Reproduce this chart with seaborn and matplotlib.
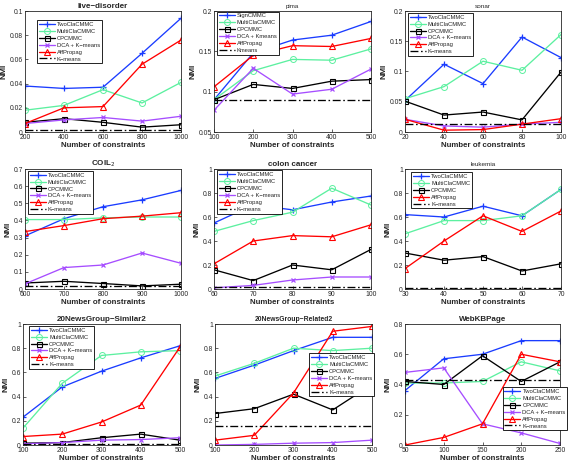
import matplotlib
matplotlib.use("Agg")
import matplotlib.pyplot as plt
import seaborn as sns

# live-disorder
live_x = [200, 400, 600, 800, 1000]
live_two = [0.038, 0.036, 0.037, 0.065, 0.094]
live_multi = [0.018, 0.022, 0.035, 0.024, 0.041]
live_cp = [0.008, 0.011, 0.008, 0.004, 0.006]
live_dca = [0.007, 0.010, 0.012, 0.009, 0.013]
live_aff = [0.007, 0.020, 0.021, 0.056, 0.076]
live_km = [0.002] * 5

# pima
pima_x = [100, 200, 300, 400, 500]
pima_sign = [0.090, 0.148, 0.164, 0.170, 0.187]
pima_multi = [0.090, 0.126, 0.140, 0.139, 0.153]
pima_cp = [0.090, 0.109, 0.104, 0.113, 0.115]
pima_dca = [0.077, 0.129, 0.097, 0.103, 0.128]
pima_aff = [0.106, 0.145, 0.157, 0.156, 0.166]
pima_km = [0.090] * 5

# sonar
sonar_x = [20, 40, 60, 80, 100]
sonar_two = [0.052, 0.112, 0.080, 0.157, 0.123]
sonar_multi = [0.055, 0.075, 0.117, 0.102, 0.161]
sonar_cp = [0.051, 0.028, 0.033, 0.020, 0.099]
sonar_dca = [0.021, 0.010, 0.008, 0.013, 0.016]
sonar_aff = [0.021, 0.003, 0.004, 0.013, 0.022]
sonar_km = [0.014] * 5

# COIL2
coil_x = [600, 700, 800, 900, 1000]
coil_two = [0.31, 0.41, 0.48, 0.52, 0.575]
coil_multi = [0.405, 0.405, 0.415, 0.42, 0.42]
coil_cp = [0.035, 0.045, 0.032, 0.018, 0.028]
coil_dca = [0.03, 0.125, 0.14, 0.21, 0.15]
coil_aff = [0.335, 0.37, 0.41, 0.425, 0.445]
coil_km = [0.018] * 5

# colon cancer
colon_x = [60, 70, 80, 90, 100]
colon_two = [0.55, 0.70, 0.66, 0.725, 0.775]
colon_multi = [0.48, 0.57, 0.64, 0.84, 0.70]
colon_cp = [0.16, 0.07, 0.20, 0.16, 0.33]
colon_dca = [0.01, 0.03, 0.075, 0.10, 0.10]
colon_aff = [0.21, 0.40, 0.445, 0.435, 0.535]
colon_km = [0.015] * 5

# leukemia
leuk_x = [30, 40, 50, 60, 70]
leuk_two = [0.62, 0.60, 0.69, 0.61, 0.83]
leuk_multi = [0.46, 0.57, 0.57, 0.61, 0.83]
leuk_cp = [0.30, 0.24, 0.27, 0.15, 0.21]
leuk_aff = [0.17, 0.40, 0.61, 0.48, 0.65]
leuk_km = [0.005] * 5

# 20NewsGroup-Similar2
sim_x = [100, 200, 300, 400, 500]
sim_two = [0.23, 0.48, 0.61, 0.72, 0.82]
sim_multi = [0.14, 0.51, 0.74, 0.77, 0.78]
sim_cp = [0.015, 0.02, 0.06, 0.09, 0.04]
sim_dca = [0.01, 0.02, 0.04, 0.045, 0.06]
sim_aff = [0.07, 0.09, 0.19, 0.33, 0.81]
sim_km = [0.005] * 5

# 20NewsGroup-Related2
rel_x = [100, 200, 300, 400, 500]
rel_two = [0.55, 0.66, 0.78, 0.89, 0.89]
rel_multi = [0.57, 0.675, 0.80, 0.78, 0.80]
rel_cp = [0.26, 0.30, 0.42, 0.29, 0.50]
rel_dca = [0.0, 0.005, 0.015, 0.02, 0.04]
rel_aff = [0.04, 0.08, 0.43, 0.94, 0.98]
rel_km = [0.16] * 5

# WebKBPage
web_x = [50, 100, 150, 200, 250]
web_two = [0.36, 0.57, 0.60, 0.69, 0.69]
web_multi = [0.41, 0.41, 0.42, 0.55, 0.49]
web_cp = [0.42, 0.40, 0.59, 0.42, 0.55]
web_dca = [0.48, 0.51, 0.14, 0.08, 0.01]
web_aff = [0.0, 0.05, 0.14, 0.60, 0.55]
web_km = [0.43] * 5

# colours / line styles / markers per method
COLORS = {"two": "#1a3cff", "multi": "#5cf0a0", "cp": "black",
          "dca": "#a64dff", "aff": "red", "km": "black"}
MARK = {
    "two": dict(marker="+", markersize=5, markeredgewidth=0.9),
    "multi": dict(marker="o", markersize=4.3, markerfacecolor="none", markeredgewidth=0.7),
    "cp": dict(marker="s", markersize=3.6, markerfacecolor="none", markeredgewidth=0.8),
    "dca": dict(marker="x", markersize=3.4, markeredgewidth=0.9),
    "aff": dict(marker="^", markersize=5, markerfacecolor="none", markeredgewidth=0.8),
    "km": dict(marker="", linestyle=(0, (6, 2, 1.2, 2))),
}

W, H = 568, 465


def box(l, t, r, b):
    return [l / W, 1 - b / H, (r - l) / W, (b - t) / H]


sns.set_style("ticks")
plt.rcParams["font.family"] = ["Liberation Sans", "DejaVu Sans"]
fig = plt.figure(figsize=(5.68, 4.65), dpi=100)

ticks01 = [0, 0.2, 0.4, 0.6, 0.8, 1]
labels01 = ["0", "0.2", "0.4", "0.6", "0.8", "1"]

panels = [
    dict(title="live\u2212disorder", tw="bold", ts=5.8, pos=box(25, 11, 181, 132),
         x=live_x, series=[("two", live_two, "TwoClaCMMC"), ("multi", live_multi, "MultiClaCMMC"),
                           ("cp", live_cp, "CPCMMC"), ("dca", live_dca, "DCA + K\u2212means"),
                           ("aff", live_aff, "AffPropag"), ("km", live_km, "K\u2212means")],
         ylim=(0, 0.1), yticks=[0, 0.02, 0.04, 0.06, 0.08, 0.1],
         yticklabels=["0", "0.02", "0.04", "0.06", "0.08", "0.1"], leg=(0.077, 0.926)),
    dict(title="pima", tw="normal", ts=4.4, pos=box(214, 11, 371, 132),
         x=pima_x, series=[("two", pima_sign, "SignCMMC"), ("multi", pima_multi, "MultiClaCMMC"),
                           ("cp", pima_cp, "CPCMMC"), ("dca", pima_dca, "DCA + Kmeans"),
                           ("aff", pima_aff, "AffPropag"), ("km", pima_km, "Kmeans")],
         ylim=(0.05, 0.2), yticks=[0.05, 0.1, 0.15, 0.2],
         yticklabels=["0.05", "0.1", "0.15", "0.2"], leg=(0.02, 0.995)),
    dict(title="sonar", tw="normal", ts=4.6, pos=box(405, 11, 561, 132),
         x=sonar_x, series=[("two", sonar_two, "TwoClaCMMC"), ("multi", sonar_multi, "MultiClaCMMC"),
                            ("cp", sonar_cp, "CPCMMC"), ("dca", sonar_dca, "DCA + K\u2212means"),
                            ("aff", sonar_aff, "AffPropag"), ("km", sonar_km, "K\u2212means")],
         ylim=(0, 0.2), yticks=[0, 0.05, 0.1, 0.15, 0.2],
         yticklabels=["0", "0.05", "0.1", "0.15", "0.2"], leg=(0.02, 0.985)),
    dict(title="COIL$_2$", tw="bold", ts=5.8, pos=box(25, 169, 181, 289),
         x=coil_x, series=[("two", coil_two, "TwoClaCMMC"), ("multi", coil_multi, "MultiClaCMMC"),
                           ("cp", coil_cp, "CPCMMC"), ("dca", coil_dca, "DCA + K\u2212means"),
                           ("aff", coil_aff, "AffPropag"), ("km", coil_km, "K\u2212means")],
         ylim=(0, 0.7), yticks=[0, 0.1, 0.2, 0.3, 0.4, 0.5, 0.6, 0.7],
         yticklabels=["0", "0.1", "0.2", "0.3", "0.4", "0.5", "0.6", "0.7"], leg=(0.02, 0.985)),
    dict(title="colon cancer", tw="bold", ts=5.8, pos=box(214, 169, 371, 289),
         x=colon_x, series=[("two", colon_two, "TwoClaCMMC"), ("multi", colon_multi, "MultiClaCMMC"),
                            ("cp", colon_cp, "CPCMMC"), ("dca", colon_dca, "DCA + K\u2212means"),
                            ("aff", colon_aff, "AffPropag"), ("km", colon_km, "K\u2212means")],
         ylim=(0, 1), yticks=ticks01, yticklabels=labels01, leg=(0.02, 0.99)),
    dict(title="leukemia", tw="normal", ts=4.6, pos=box(405, 169, 561, 289),
         x=leuk_x, series=[("two", leuk_two, "TwoClaCMMC"), ("multi", leuk_multi, "MultiClaCMMC"),
                           ("cp", leuk_cp, "CPCMMC"), ("aff", leuk_aff, "AffPropag"),
                           ("km", leuk_km, "K\u2212means")],
         ylim=(0, 1), yticks=ticks01, yticklabels=labels01, leg=(0.04, 0.975)),
    dict(title="20NewsGroup\u2212Similar2", tw="bold", ts=5.8, pos=box(23, 324, 180, 445),
         x=sim_x, series=[("two", sim_two, "TwoClaCMMC"), ("multi", sim_multi, "MultiClaCMMC"),
                          ("cp", sim_cp, "CPCMMC"), ("dca", sim_dca, "DCA + K\u2212means"),
                          ("aff", sim_aff, "AffPropag"), ("km", sim_km, "K\u2212means")],
         ylim=(0, 1), yticks=ticks01, yticklabels=labels01, leg=(0.04, 0.985)),
    dict(title="20NewsGroup\u2212Related2", tw="bold", ts=4.9, pos=box(215, 324, 372, 445),
         x=rel_x, series=[("two", rel_two, "TwoClaCMMC"), ("multi", rel_multi, "MultiClaCMMC"),
                          ("cp", rel_cp, "CPCMMC"), ("dca", rel_dca, "DCA + K\u2212means"),
                          ("aff", rel_aff, "AffPropag"), ("km", rel_km, "K\u2212means")],
         ylim=(0, 1), yticks=ticks01, yticklabels=labels01, leg=(0.6, 0.76)),
    dict(title="WebKBPage", tw="bold", ts=5.8, pos=box(405, 324, 560, 445),
         x=web_x, series=[("two", web_two, "TwoClaCMMC"), ("multi", web_multi, "MultiClaCMMC"),
                          ("cp", web_cp, "CPCMMC"), ("dca", web_dca, "DCA + K\u2212means"),
                          ("aff", web_aff, "AffPropag"), ("km", web_km, "K\u2212means")],
         ylim=(0, 0.8), yticks=[0, 0.2, 0.4, 0.6, 0.8],
         yticklabels=["0", "0.2", "0.4", "0.6", "0.8"], leg=(0.63, 0.48)),
]

for p in panels:
    ax = fig.add_axes(p["pos"])
    for key, vals, label in p["series"]:
        c = COLORS[key]
        sns.lineplot(x=p["x"], y=vals, ax=ax, color=c, lw=0.95, legend=False)
        # seaborn paints marker edges white by default, so restyle the line here
        ax.lines[-1].set(label=label, markeredgecolor=c, **MARK[key])
    ax.set_xlim(p["x"][0], p["x"][-1])
    ax.set_xticks(p["x"])
    ax.set_ylim(*p["ylim"])
    ax.set_yticks(p["yticks"])
    ax.set_yticklabels(p["yticklabels"])
    ax.tick_params(direction="in", labelsize=4.9, length=2, pad=1.5, width=0.5)
    for s in ax.spines.values():
        s.set_linewidth(0.6)
    ax.set_title(p["title"], fontsize=p["ts"], fontweight=p["tw"], pad=2.5)
    ax.set_xlabel("Number of constraints", fontsize=5.7, fontweight="bold", labelpad=1)
    ax.set_ylabel("NMI", fontsize=6, fontweight="bold", labelpad=1.5)
    leg = ax.legend(loc="upper left", bbox_to_anchor=p["leg"], fontsize=4.2, frameon=True,
                    fancybox=False, edgecolor="black", framealpha=1, handlelength=2.7,
                    handletextpad=0.4, borderpad=0.3, labelspacing=0.32, borderaxespad=0)
    leg.get_frame().set_linewidth(0.6)

fig.savefig("out.png", dpi=100)
